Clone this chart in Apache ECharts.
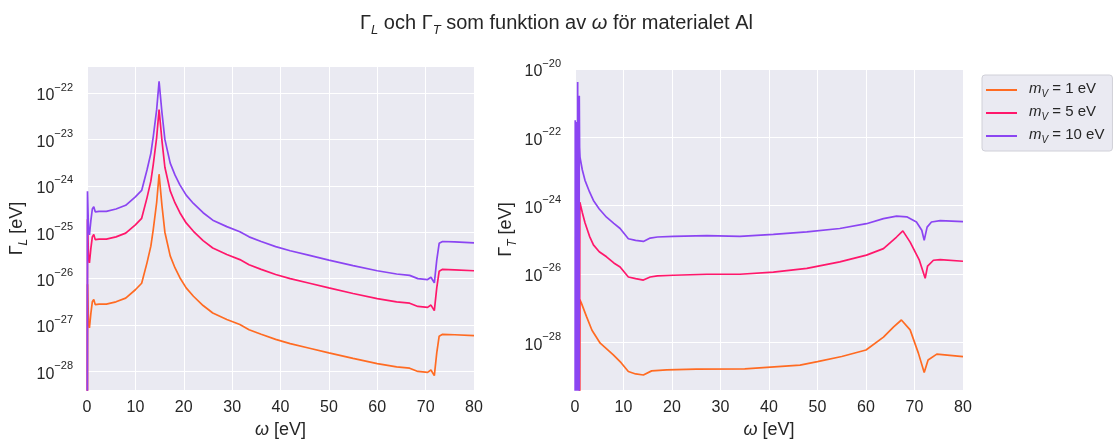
<!DOCTYPE html>
<html>
<head>
<meta charset="utf-8">
<title>Gamma L och Gamma T</title>
<script src="https://cdn.jsdelivr.net/npm/echarts@6/dist/echarts.min.js"></script>
<style>
  html, body { margin: 0; padding: 0; background: #fff; }
  #chart { width: 1113px; height: 440px; }
</style>
</head>
<body>
<div id="chart"></div>
<script>
// all gamma values are log10(Gamma / eV); the y axes run in decades
var massLabels = ['1', '5', '10'];

// left panel: Gamma_L
var omegaL = [0, 0.1, 0.3, 0.5, 0.8, 1.1, 1.4, 1.7, 2.5, 4, 6, 8, 10, 11.3, 12.4, 13.2, 13.7, 14.4, 14.9, 15.5,
  16.1, 17.2, 18.2, 19.2, 20.5, 22, 24, 26, 28.9, 31.6, 33.5, 36, 39, 42, 46, 50, 55, 60, 64, 66.7,
  68.4, 70.4, 71.1, 71.8, 72.3, 72.8, 73.5, 76, 80];
var gammaL1 = [-40, -26.12, -26.9, -27.06, -26.75, -26.5, -26.45, -26.56, -26.55, -26.55, -26.5, -26.42, -26.24, -26.1, -25.66,
  -25.3, -24.94, -24.36, -23.75, -24.43, -25.0, -25.51, -25.77, -25.98, -26.2, -26.38, -26.58, -26.74, -26.88, -26.99,
  -27.1, -27.2, -27.31, -27.4, -27.5, -27.6, -27.72, -27.83, -27.9, -27.93, -28.0, -28.02, -27.97, -28.09, -27.6,
  -27.24, -27.2, -27.21, -27.23];
var gammaL5 = [-40, -24.72, -25.5, -25.66, -25.35, -25.1, -25.05, -25.16, -25.15, -25.15, -25.1, -25.02, -24.84, -24.7, -24.26,
  -23.9, -23.54, -22.96, -22.36, -23.03, -23.6, -24.11, -24.37, -24.58, -24.8, -24.98, -25.18, -25.34, -25.48, -25.59,
  -25.7, -25.8, -25.91, -26.0, -26.1, -26.2, -26.32, -26.43, -26.5, -26.53, -26.6, -26.62, -26.57, -26.69, -26.2,
  -25.84, -25.8, -25.81, -25.83];
var gammaL10 = [-40, -24.12, -24.9, -25.06, -24.75, -24.5, -24.45, -24.56, -24.55, -24.55, -24.5, -24.42, -24.24, -24.1, -23.66,
  -23.3, -22.94, -22.36, -21.75, -22.43, -23.0, -23.51, -23.77, -23.98, -24.2, -24.38, -24.58, -24.74, -24.88, -24.99,
  -25.1, -25.2, -25.31, -25.4, -25.5, -25.6, -25.72, -25.83, -25.9, -25.93, -26.0, -26.02, -25.97, -26.09, -25.6,
  -25.24, -25.2, -25.21, -25.23];

// right panel: Gamma_T
var omegaT1 = [0.8, 1.0, 1.3, 2.4, 3.5, 5.2, 7.9, 9.5, 11, 12.5, 14.1, 15.8, 18.9, 25, 35, 46.4, 50, 55, 60, 63.6,
  65.7, 67.3, 69.1, 70.8, 72, 72.8, 74.6, 80];
var gammaT1 = [-40, -26.75, -26.85, -27.26, -27.65, -28.03, -28.37, -28.6, -28.86, -28.93, -28.96, -28.84, -28.81, -28.79,
  -28.78, -28.67, -28.57, -28.42, -28.23, -27.85, -27.55, -27.35, -27.64, -28.32, -28.89, -28.52, -28.35, -28.42];
var omegaT5 = [0.8, 1.0, 1.5, 2.06, 3, 3.8, 5, 6.5, 8, 9.3, 11, 12.5, 14.1, 15.5, 17, 20.3, 27.2, 34, 40.9, 47.8,
  54.6, 60.1, 63.6, 66.3, 67.6, 69.1, 71, 72.2, 72.7, 73.9, 75.3, 80];
var gammaT5 = [-40, -23.9, -24.2, -24.5, -24.9, -25.15, -25.35, -25.5, -25.68, -25.8, -26.09, -26.14, -26.18, -26.09, -26.06,
  -26.04, -26.01, -26.01, -25.95, -25.84, -25.65, -25.45, -25.26, -24.92, -24.74, -25.07, -25.6, -26.13, -25.77, -25.6,
  -25.58, -25.63];
var omegaT10 = [0, 0.05, 0.1, 0.15, 0.2, 0.25, 0.3, 0.35, 0.4, 0.45, 0.5, 0.55, 0.6, 0.65, 0.7, 0.75, 0.8, 0.88, 0.95, 1.03,
  1.5, 2.06, 3, 3.8, 5, 6.5, 8, 9.3, 11, 12.5, 14.1, 15.5, 17, 20.3, 27.2, 34, 40.9, 47.8, 54.6, 60.1,
  63.6, 66.3, 68.4, 70.4, 71.5, 72.0, 72.6, 73.5, 75.3, 80];
var gammaT10 = [-40, -21.5, -40, -22.4, -40, -21.55, -40, -22.2, -40, -21.8, -40, -20.38, -40, -21.6, -40, -22.3, -40,
  -20.78, -22.3, -22.58, -22.95, -23.26, -23.6, -23.85, -24.1, -24.34, -24.52, -24.67, -24.97, -25.02,
  -25.05, -24.95, -24.92, -24.9, -24.88, -24.9, -24.84, -24.77, -24.67, -24.53, -24.38, -24.31, -24.33, -24.48, -24.72,
  -25.02, -24.63, -24.48, -24.44, -24.47];

// ticks: omega, and decade exponents for the y axes
var xTicks = [0, 10, 20, 30, 40, 50, 60, 70, 80];
var yTicksL = [-28, -27, -26, -25, -24, -23, -22];
var yTicksT = [-28, -26, -24, -22, -20];

var colors = ['#ff6b22', '#ff176b', '#8b45f2'];
var font = 'Liberation Sans, Arial, sans-serif';
var ink = '#262626';

function pairs(xs, ys) {
  return xs.map(function (x, i) { return [x, ys[i]]; });
}

function powLabel(e) {
  e = Math.round(e);
  return '{b|10}{e|' + (e < 0 ? '\u2212' + (-e) : e) + '}';
}

var powRich = {
  b: { fontSize: 16, color: ink, fontFamily: font, lineHeight: 22, verticalAlign: 'bottom' },
  e: { fontSize: 11, color: ink, fontFamily: font, lineHeight: 13, verticalAlign: 'top' }
};

function xAxisFor(idx) {
  return {
    type: 'value', gridIndex: idx, min: xTicks[0], max: xTicks[xTicks.length - 1], interval: 10,
    name: '{i|\u03c9}{n| [eV]}', nameLocation: 'middle', nameGap: 31,
    nameTextStyle: { rich: {
      i: { fontSize: 18, fontStyle: 'italic', color: ink, fontFamily: font },
      n: { fontSize: 18, color: ink, fontFamily: font }
    } },
    axisLine: { show: false }, axisTick: { show: false },
    axisLabel: { fontSize: 16, color: ink, fontFamily: font, margin: 10 },
    splitLine: { show: true, lineStyle: { color: '#ffffff', width: 1 } }
  };
}

function yAxisFor(idx, sub, lo, hi, ticks, gap) {
  return {
    type: 'value', gridIndex: idx, min: lo, max: hi,
    name: '{g|\u0393}{s|' + sub + '}{g| [eV]}', nameLocation: 'middle', nameGap: gap,
    nameTextStyle: { rich: {
      g: { fontSize: 18, color: ink, fontFamily: font, lineHeight: 22, verticalAlign: 'top' },
      s: { fontSize: 12, fontStyle: 'italic', color: ink, fontFamily: font, lineHeight: 14, verticalAlign: 'bottom' }
    } },
    axisLine: { show: false },
    axisTick: { show: false, customValues: ticks },
    axisLabel: { formatter: powLabel, rich: powRich, margin: 14, customValues: ticks },
    splitLine: { show: true, lineStyle: { color: '#ffffff', width: 1 } }
  };
}

function gridAt(l, r, t, b) {
  return { left: l, right: 1113 - r, top: t, bottom: 440 - b, show: true, backgroundColor: '#eaeaf2',
    borderWidth: 0, containLabel: false, outerBoundsMode: 'none' };
}

function line(name, idx, xs, ys, color) {
  return {
    name: name, type: 'line', xAxisIndex: idx, yAxisIndex: idx,
    data: pairs(xs, ys), showSymbol: false, symbol: 'none',
    lineStyle: { color: color, width: 1.7 }, itemStyle: { color: color },
    clip: true, animation: false
  };
}

var names = massLabels.map(function (m) { return 'm_V = ' + m + ' eV'; });

var myChart = echarts.init(document.getElementById('chart'));

option = {
  backgroundColor: '#ffffff',
  animation: false,
  title: {
    text: '{n|\u0393}{s|L}{n| och \u0393}{s|T}{n| som funktion av }{i|\u03c9}{n| f\u00f6r materialet Al}',
    left: 'center', top: 8,
    textStyle: { fontWeight: 'normal', rich: {
      n: { fontSize: 20, fontWeight: 'normal', color: ink, fontFamily: font, lineHeight: 24, verticalAlign: 'top' },
      i: { fontSize: 20, fontWeight: 'normal', fontStyle: 'italic', color: ink, fontFamily: font, lineHeight: 24, verticalAlign: 'top' },
      s: { fontSize: 13, fontWeight: 'normal', fontStyle: 'italic', color: ink, fontFamily: font, lineHeight: 15, verticalAlign: 'bottom' }
    } }
  },
  legend: {
    orient: 'vertical', left: 982, top: 75,
    data: names,
    icon: 'rect', itemWidth: 31, itemHeight: 2, itemGap: 5,
    padding: [6, 8, 6, 4],
    backgroundColor: '#eaeaf2', borderColor: '#d0d0d8', borderWidth: 1, borderRadius: 3,
    formatter: function (name) {
      var m = name.replace('m_V = ', '').replace(' eV', '');
      return '{sp|}{m|m}{s|V}{t| = ' + m + ' eV}';
    },
    textStyle: { rich: {
      sp: { width: 7 },
      m: { fontSize: 15, fontStyle: 'italic', color: ink, fontFamily: font, lineHeight: 18, verticalAlign: 'top' },
      s: { fontSize: 10, fontStyle: 'italic', color: ink, fontFamily: font, lineHeight: 12, verticalAlign: 'bottom' },
      t: { fontSize: 15, color: ink, fontFamily: font, lineHeight: 18, verticalAlign: 'top' }
    } }
  },
  grid: [gridAt(87, 474, 67, 390), gridAt(575, 963, 69, 390)],
  xAxis: [xAxisFor(0), xAxisFor(1)],
  yAxis: [
    yAxisFor(0, 'L', -28.4, -21.44, yTicksL, 57),
    yAxisFor(1, 'T', -29.4, -20, yTicksT, 56)
  ],
  series: [
    line(names[0], 0, omegaL, gammaL1, colors[0]),
    line(names[1], 0, omegaL, gammaL5, colors[1]),
    line(names[2], 0, omegaL, gammaL10, colors[2]),
    line(names[0], 1, omegaT1, gammaT1, colors[0]),
    line(names[1], 1, omegaT5, gammaT5, colors[1]),
    line(names[2], 1, omegaT10, gammaT10, colors[2])
  ]
};

myChart.setOption(option);
</script>
</body>
</html>
